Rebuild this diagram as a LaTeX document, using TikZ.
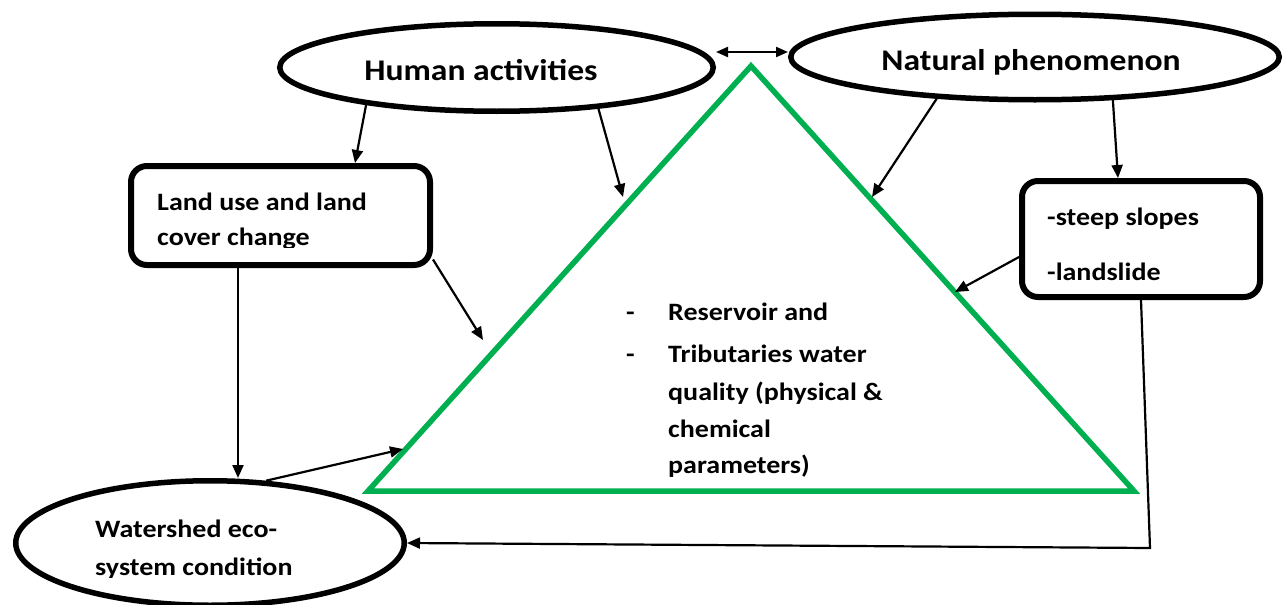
\documentclass[tikz,border=0pt]{standalone}
\usepackage{fontspec}
\setmainfont{Carlito}[FakeStretch=1.12]
\usetikzlibrary{shapes.geometric,arrows.meta,calc}
\definecolor{trigreen}{RGB}{0,176,80}
\begin{document}
\begin{tikzpicture}[x=1pt,y=-1pt,
  oval/.style={ellipse,draw,line width=5.5pt,inner sep=0pt},
  boxnode/.style={rectangle,draw,line width=6pt,rounded corners=16pt,inner sep=0pt},
  bigtxt/.style={font=\fontsize{30}{36}\selectfont\bfseries,inner sep=0pt},
  txt/.style={font=\fontsize{25}{30}\selectfont\bfseries,inner sep=0pt,anchor=base west},
  arr/.style={line width=2.2pt,-{Triangle[length=13pt,width=11pt]}},
  dblarr/.style={line width=2.2pt,{Triangle[length=12pt,width=10pt]}-{Triangle[length=12pt,width=10pt]}}]
\useasboundingbox (0,0) rectangle (1288,605);

% central triangle
\coordinate (apex) at (751,66);
\coordinate (tl) at (368,491);
\coordinate (tr) at (1134,491);
\draw[trigreen,line width=5.5pt,line join=miter] (apex) -- (tl) -- (tr) -- cycle;

% outer nodes
\node[oval,minimum width=433.5pt,minimum height=87.5pt] (H) at (496.5,67.5) {};
\node[bigtxt,anchor=base] (Ht) at (481,80) {Human activities};
\node[oval,minimum width=488.5pt,minimum height=85.5pt] (N) at (1035,57) {};
\node[bigtxt,anchor=base] (Nt) at (1031,70) {Natural phenomenon};
\node[boxnode,minimum width=299pt,minimum height=99pt] (L) at (280.5,215.5) {};
\node[boxnode,minimum width=238pt,minimum height=116pt] (S) at (1141,239) {};
\node[oval,minimum width=388.5pt,minimum height=124.5pt] (W) at (210,543) {};

% box and oval texts (the lower lines lose their descenders)
\begin{scope}
  \clip (128,150) rectangle (433,247);
  \node[txt] (L1) at (157,210) {Land use and land};
  \node[txt] (L2) at (157,245) {cover change};
\end{scope}
\node[txt] (S1) at (1047,225) {-steep slopes};
\node[txt] (S2) at (1047,280) {-landslide};
\begin{scope}
  \clip (13,470) rectangle (407,577);
  \node[txt] (W1) at (95,537) {Watershed eco-};
  \node[txt] (W2) at (95,575) {system condition};
\end{scope}

% text inside the triangle
\node[txt] (d1) at (626,320) {-};
\node[txt] (d2) at (626,362) {-};
\node[txt] (T1) at (668,320) {Reservoir and};
\node[txt] (T2) at (668,362) {Tributaries water};
\node[txt] (T3) at (668,400) {quality (physical \&};
\node[txt] (T4) at (668,437) {chemical};
\node[txt] (T5) at (668,473) {parameters)};

% arrow targets on the triangle
\coordinate (tA) at (623,197);
\coordinate (tB) at (872,197);
\coordinate (tC) at (955,292);
\coordinate (tD) at (483,340);
\coordinate (tE) at (403,449);
\coordinate (kS) at (1150,548);

% connectors
\draw[dblarr] (H.east |- 0,52) -- (N.west |- 0,52);
\draw[arr] (H.-164) -- ([xshift=74.5pt]L.north);
\draw[arr] (H.-22) -- (tA);
\draw[arr] (N.-157) -- (tB);
\draw[arr] (N.-29) -- ([xshift=-23pt]S.north);
\draw[arr] ([yshift=-18pt]S.west) -- (tC);
\draw[arr] ([yshift=-44pt]L.east) -- (tD);
\draw[arr] ([xshift=-42.5pt]L.south) -- ([xshift=28pt]W.north);
\draw[arr] (W.48) -- (tE);
\draw[arr] (S.south) -- (kS) -- (W.east);
\end{tikzpicture}
\end{document}
